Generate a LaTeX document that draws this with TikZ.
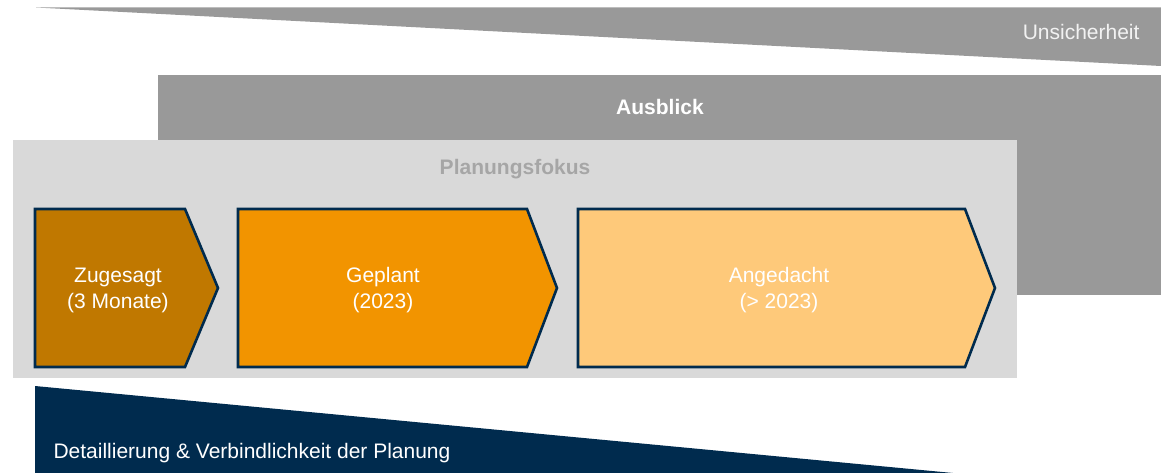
\documentclass[tikz,border=0pt]{standalone}
\usepackage{fontspec}
\setmainfont{Liberation Sans}
\usepackage{tikz}

\definecolor{wedgegray}{HTML}{999999}
\definecolor{panelgray}{HTML}{D9D9D9}
\definecolor{fokusgray}{HTML}{A6A6A6}
\definecolor{navy}{HTML}{002B4E}
\definecolor{zugesagtc}{HTML}{C07800}
\definecolor{geplantc}{HTML}{F29400}
\definecolor{angedachtc}{HTML}{FEC97A}

\begin{document}
\begin{tikzpicture}[x=1pt,y=-1pt,
  chevron/.style={draw=navy,line width=2.6pt,line join=miter},
  phasetext/.style={align=center,text=white,font=\fontsize{21}{26}\selectfont},
  headtext/.style={font=\fontsize{21}{25}\selectfont\bfseries}]
  \useasboundingbox (0,0) rectangle (1161,473);

  % uncertainty wedge
  \fill[wedgegray] (36,7.5) -- (1161,7.5) -- (1161,66) -- cycle;
  \node[anchor=east,text=white!95!black,font=\fontsize{21}{25}\selectfont] (unsicher) at (1143,32) {Unsicherheit};

  % outlook and focus panels
  \fill[wedgegray] (158,75) rectangle (1161,295);
  \node[headtext,text=white] (ausblick) at (660,107) {Ausblick};
  \fill[panelgray] (13,140) rectangle (1017,378);
  \node[headtext,text=fokusgray] (fokus) at (515,169) {Planungsfokus};

  % phases
  \draw[chevron,fill=zugesagtc] (35,209) -- (185,209) -- (218,288) -- (185,367) -- (35,367) -- cycle;
  \node[phasetext] (zugesagt) at (118,290) {Zugesagt\\(3 Monate)};
  \draw[chevron,fill=geplantc] (238,209) -- (527,209) -- (557,288) -- (527,367) -- (238,367) -- cycle;
  \node[phasetext] (geplant) at (383,290) {Geplant\\(2023)};
  \draw[chevron,fill=angedachtc] (578,209) -- (965,209) -- (995,288) -- (965,367) -- (578,367) -- cycle;
  \node[phasetext] (angedacht) at (779,290) {Angedacht\\(> 2023)};

  % detail wedge
  \fill[navy] (35,386) -- (953,473) -- (35,473) -- cycle;
  \node[anchor=west,text=white,font=\fontsize{21}{25}\selectfont] (detail) at (50,453) {Detaillierung \& Verbindlichkeit der Planung};
\end{tikzpicture}
\end{document}
